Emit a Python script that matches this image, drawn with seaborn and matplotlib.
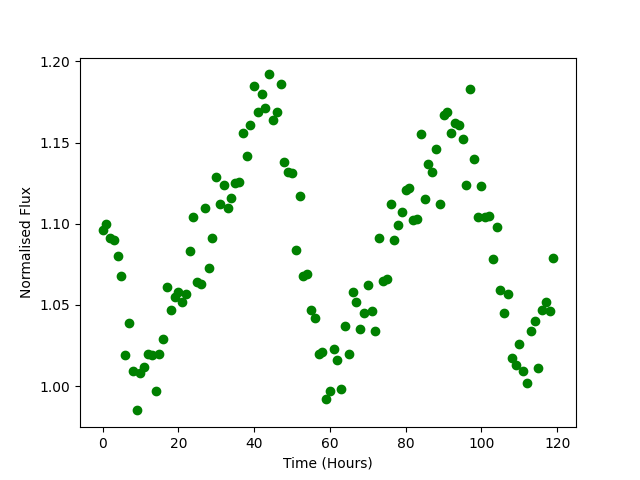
import matplotlib
matplotlib.use("Agg")
import matplotlib.pyplot as plt
import seaborn as sns
import numpy as np
import pandas as pd

hours = list(range(120))
flux = [
    1.096, 1.100, 1.091, 1.090, 1.080, 1.068, 1.019, 1.039, 1.009, 0.985,
    1.008, 1.012, 1.020, 1.019, 0.997, 1.020, 1.029, 1.061, 1.047, 1.055,
    1.058, 1.052, 1.057, 1.083, 1.104, 1.064, 1.063, 1.110, 1.073, 1.091,
    1.129, 1.112, 1.124, 1.110, 1.116, 1.125, 1.126, 1.156, 1.142, 1.161,
    1.185, 1.169, 1.180, 1.171, 1.192, 1.164, 1.169, 1.186, 1.138, 1.132,
    1.131, 1.084, 1.117, 1.068, 1.069, 1.047, 1.042, 1.020, 1.021, 0.992,
    0.997, 1.023, 1.016, 0.998, 1.037, 1.020, 1.058, 1.052, 1.035, 1.045,
    1.062, 1.046, 1.034, 1.091, 1.065, 1.066, 1.112, 1.090, 1.099, 1.107,
    1.121, 1.122, 1.102, 1.103, 1.155, 1.115, 1.137, 1.132, 1.146, 1.112,
    1.167, 1.169, 1.156, 1.162, 1.161, 1.152, 1.124, 1.183, 1.140, 1.104,
    1.123, 1.104, 1.105, 1.078, 1.098, 1.059, 1.045, 1.057, 1.017, 1.013,
    1.026, 1.009, 1.002, 1.034, 1.040, 1.011, 1.047, 1.052, 1.046, 1.079,
]

df = pd.DataFrame({"hours": hours, "flux": flux})

fig, ax = plt.subplots(figsize=(6.4, 4.8), dpi=100)
sns.scatterplot(data=df, x="hours", y="flux", ax=ax, color="green",
                edgecolor="green", linewidth=1, s=36)
ax.set_xlabel("Time (Hours)")
ax.set_ylabel("Normalised Flux")
ax.set_xticks([0, 20, 40, 60, 80, 100, 120])
ax.set_yticks([1.00, 1.05, 1.10, 1.15, 1.20])
ax.set_yticklabels(["1.00", "1.05", "1.10", "1.15", "1.20"])
fig.savefig("out.png", dpi=100)
